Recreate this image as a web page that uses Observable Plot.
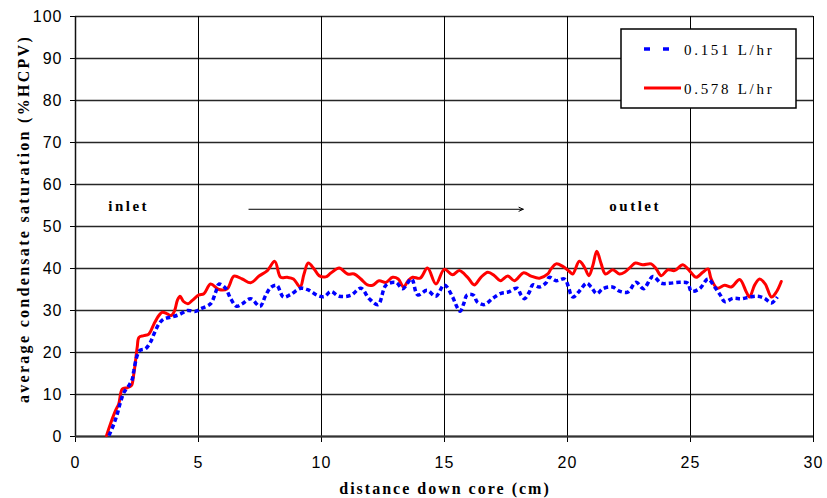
<!DOCTYPE html>
<html>
<head>
<meta charset="utf-8">
<script src="https://cdn.jsdelivr.net/npm/d3@7"></script>
<script src="https://cdn.jsdelivr.net/npm/@observablehq/plot@0.6"></script>
<style>
  html, body { margin: 0; padding: 0; background: #fff; }
  #chart { width: 827px; height: 498px; }
</style>
</head>
<body>
<div id="chart"></div>
<script>
// ---- data ----
const xTicks = [0, 5, 10, 15, 20, 25, 30];
const yTicks = [0, 10, 20, 30, 40, 50, 60, 70, 80, 90, 100];

const seriesNames = ["0.151 L/hr", "0.578 L/hr"];

const redX = [1.26,1.42,1.63,1.76,1.90,2.10,2.27,2.37,2.51,2.58,2.78,2.98,3.19,3.39,3.53,3.73,3.89,4.03,4.14,4.25,4.38,4.57,4.75,5.02,5.22,5.49,5.83,6.17,6.44,6.78,7.12,7.46,7.80,8.10,8.34,8.61,8.86,9.13,9.29,9.46,9.70,9.90,10.17,10.38,10.72,11.06,11.33,11.60,11.87,12.08,12.34,12.62,12.89,13.12,13.34,13.52,13.70,14.01,14.31,14.65,14.99,15.33,15.60,15.94,16.21,16.48,16.76,17.03,17.27,17.57,17.84,18.22,18.52,18.86,19.20,19.33,19.54,19.81,20.08,20.21,20.48,20.69,20.87,21.03,21.19,21.37,21.54,21.84,22.11,22.32,22.59,22.76,23.06,23.40,23.61,23.81,24.08,24.35,24.69,24.89,25.03,25.23,25.50,25.71,25.84,26.09,26.39,26.66,27.00,27.27,27.40,27.61,27.81,28.04,28.29,28.49,28.69];
const redY = [0.2,3.0,6.2,7.8,11.3,11.6,12.1,14.9,21.3,23.6,24.0,24.4,26.8,28.8,29.6,29.2,28.8,30.0,32.4,33.4,32.2,31.6,32.4,33.7,34.0,36.3,35.0,35.2,38.2,37.5,36.6,38.2,39.5,41.7,37.9,37.9,37.5,35.6,38.7,41.3,39.9,38.3,38.0,38.9,40.1,38.7,38.7,37.5,36.1,36.0,37.1,36.7,37.9,37.5,35.6,37.1,37.9,37.7,40.1,36.3,39.8,38.5,39.5,37.9,36.1,37.9,39.1,38.3,37.1,38.2,37.1,39.0,38.2,37.7,38.7,39.9,41.1,40.5,39.3,38.7,41.7,40.3,38.3,40.7,44.1,41.1,38.7,39.7,38.7,39.1,40.5,41.3,40.9,41.1,39.9,38.3,39.7,39.5,40.9,39.9,39.0,37.9,39.1,39.9,37.5,35.3,36.0,35.6,37.4,34.4,33.2,36.1,37.5,36.3,33.2,34.4,36.9];

const blueX = [1.36,1.56,1.70,1.83,1.97,2.17,2.31,2.37,2.51,2.62,2.85,3.05,3.19,3.39,3.59,3.87,4.21,4.55,4.88,5.09,5.49,5.70,5.83,6.10,6.31,6.55,6.78,7.12,7.50,7.73,7.94,8.18,8.45,8.72,9.16,9.50,9.83,10.11,10.38,10.72,11.19,11.60,11.94,12.30,12.62,13.02,13.30,13.66,13.91,14.29,14.65,14.99,15.33,15.51,15.64,15.78,15.92,16.19,16.32,16.62,16.96,17.30,17.59,17.95,18.11,18.25,18.45,18.59,18.86,19.13,19.26,19.54,19.88,20.04,20.15,20.24,20.48,20.78,20.96,21.19,21.44,21.82,22.11,22.45,22.79,23.09,23.47,23.81,24.15,24.56,24.89,25.03,25.37,25.71,25.98,26.22,26.39,26.73,27.07,27.40,27.74,28.01,28.29,28.53];
const blueY = [0.2,3.0,5.4,8.2,10.5,12.1,13.7,15.7,19.3,20.5,20.9,22.5,24.4,26.8,28.0,28.4,29.0,30.0,29.8,30.4,31.6,34.4,36.3,35.3,32.8,31.0,31.6,32.8,31.0,33.6,35.5,36.0,33.2,33.7,35.3,34.8,33.6,33.3,34.5,33.4,33.6,35.3,32.8,31.4,36.0,36.7,35.2,37.5,33.7,34.8,33.4,36.1,33.2,30.8,29.8,31.6,33.7,33.6,32.1,31.4,32.9,34.1,34.4,35.3,33.7,32.8,34.4,36.1,35.6,36.6,37.9,37.1,37.5,35.6,33.6,33.2,34.6,36.5,35.6,34.0,35.2,35.6,34.6,34.4,36.7,35.2,38.1,36.5,36.5,36.7,36.5,34.6,35.2,37.5,35.6,33.6,32.1,32.9,32.8,33.2,33.4,32.9,31.8,33.2];

const annotText = ["inlet", "outlet"];
const annotX = [2.16, 22.75];
const annotY = [54.8, 54.8];
const arrowX = [7.05, 18.2];
const arrowY = 54.1;

const xTitle = "distance down core (cm)";
const yTitle = "average condensate saturation (%HCPV)";

// ---- build tables ----
const red = redX.map((x, i) => ({x, y: redY[i]}));
const blue = blueX.map((x, i) => ({x, y: blueY[i]}));
const annots = annotText.map((t, i) => ({t, x: annotX[i], y: annotY[i]}));
const arrows = [{x1: arrowX[0], x2: arrowX[1], y: arrowY}];

const W = 827, H = 498;
const mL = 75, mR = 14, mT = 16, mB = 62;

const plot = Plot.plot({
  width: W, height: H,
  marginLeft: mL, marginRight: mR, marginTop: mT, marginBottom: mB,
  style: {fontFamily: "'Liberation Sans', Arial, sans-serif", fontSize: "16px", color: "#000", background: "#fff", overflow: "visible"},
  x: {domain: [0, 30], ticks: xTicks},
  y: {domain: [0, 100], ticks: yTicks},
  marks: [
    Plot.gridX(xTicks, {stroke: "#000", strokeOpacity: 1, strokeWidth: 1}),
    Plot.gridY(yTicks, {stroke: "#000", strokeOpacity: 0.85, strokeWidth: 1.4}),
    Plot.axisX({ticks: xTicks, tickSize: 6, tickPadding: 14, label: null, fontSize: 16}),
    Plot.axisY({ticks: yTicks, tickSize: 5, tickPadding: 8, label: null, fontSize: 16}),
    Plot.ruleX([0], {stroke: "#111", strokeWidth: 1.5}),
    Plot.ruleY([0], {stroke: "#333", strokeWidth: 2.2}),
    Plot.line(red, {x: "x", y: "y", stroke: "#ff0000", strokeWidth: 3, curve: "catmull-rom"}),
    Plot.line(blue, {x: "x", y: "y", stroke: "#0000ff", strokeWidth: 3.5, strokeDasharray: "4.5,3", strokeLinecap: "butt", strokeLinejoin: "miter", curve: "catmull-rom"}),
    Plot.arrow(arrows, {x1: "x1", x2: "x2", y1: "y", y2: "y", stroke: "#000", strokeWidth: 1, headLength: 7, headAngle: 50}),
    Plot.text(annots, {x: "x", y: "y", text: "t", fontFamily: "'Liberation Serif', 'Times New Roman', serif", fontWeight: "bold", fontSize: 15, fill: "#000"})
  ]
});

document.getElementById("chart").appendChild(plot);

const svg = d3.select(plot);
svg.selectAll("[aria-label='x-axis tick label'] text, [aria-label='y-axis tick label'] text").attr("letter-spacing", "1px");
svg.selectAll("[aria-label='text'] text").attr("letter-spacing", "2.5px");

// axis titles
svg.append("text")
  .attr("x", 445).attr("y", 494)
  .attr("text-anchor", "middle")
  .attr("font-family", "'Liberation Serif', 'Times New Roman', serif")
  .attr("font-weight", "bold").attr("font-size", 16)
  .attr("letter-spacing", "2px")
  .attr("fill", "#000")
  .text(xTitle);

svg.append("text")
  .attr("transform", "translate(29,219) rotate(-90)")
  .attr("text-anchor", "middle")
  .attr("font-family", "'Liberation Serif', 'Times New Roman', serif")
  .attr("font-weight", "bold").attr("font-size", 16)
  .attr("letter-spacing", "2.3px")
  .attr("fill", "#000")
  .text(yTitle);

// legend
const lg = svg.append("g");
lg.append("rect").attr("x", 621).attr("y", 29).attr("width", 175).attr("height", 79)
  .attr("fill", "#fff").attr("stroke", "#000").attr("stroke-width", 1.5);
lg.append("line").attr("x1", 644).attr("x2", 672).attr("y1", 49).attr("y2", 49)
  .attr("stroke", "#0000ff").attr("stroke-width", 3.5).attr("stroke-dasharray", "6,13");
lg.append("line").attr("x1", 644).attr("x2", 681).attr("y1", 88).attr("y2", 88)
  .attr("stroke", "#ff0000").attr("stroke-width", 3);
[[seriesNames[0], 55], [seriesNames[1], 94]].forEach(([t, y]) => {
  lg.append("text").attr("x", 684).attr("y", y)
    .attr("text-anchor", "start")
    .attr("font-family", "'Liberation Serif', 'Times New Roman', serif")
    .attr("font-size", 15).attr("letter-spacing", "2.7px").attr("fill", "#000")
    .text(t);
});
</script>
</body>
</html>
